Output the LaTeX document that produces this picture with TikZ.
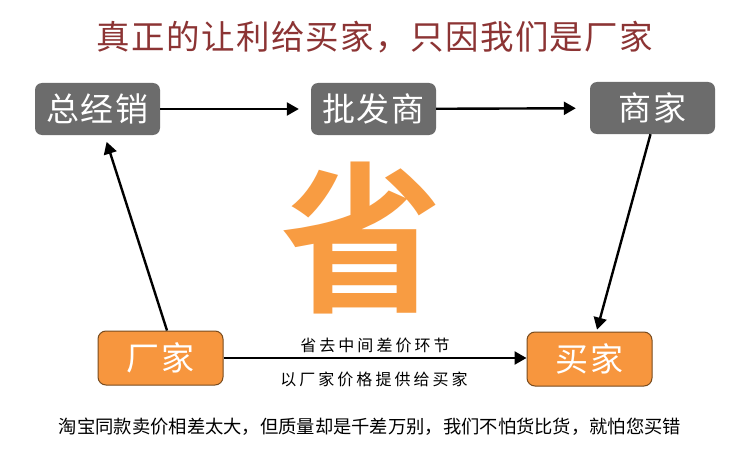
\documentclass[tikz,border=0pt]{standalone}
\usepackage{fontspec}
\setmainfont{Noto Sans CJK SC}
\newfontfamily\cjk{Noto Sans CJK SC}
\newfontfamily\cjkbold{Noto Sans CJK SC Bold}
\usetikzlibrary{arrows.meta}
\definecolor{titlered}{RGB}{140,52,52}
\definecolor{boxgray}{RGB}{108,108,108}
\definecolor{boxorange}{RGB}{247,150,62}
\definecolor{boxedge}{RGB}{120,75,30}
\definecolor{bigorange}{RGB}{248,156,66}
\tikzset{
  graybox/.style={fill=boxgray, rounded corners=7pt, minimum width=125pt, minimum height=52pt,
    inner sep=0pt, text=white, font=\cjk\fontsize{33}{33}\selectfont},
  orangebox/.style={fill=boxorange, draw=boxedge, line width=1pt, rounded corners=8pt,
    minimum width=125pt, minimum height=54pt, inner sep=0pt, text=white,
    font=\cjk\fontsize{33}{33}\selectfont},
  conn/.style={line width=2.4pt, -{Triangle[length=12pt,width=13pt]}},
  smalllabel/.style={font=\cjk\fontsize{16}{16}\selectfont, inner sep=0pt},
}
\begin{document}
\begin{tikzpicture}[x=1pt,y=-1pt]
\useasboundingbox[fill=white] (0,0) rectangle (750,460);
\node[font=\cjk\fontsize{33.5}{33.5}\selectfont\addfontfeature{LetterSpace=4}, text=titlered] (title) at (375,37) {真正的让利给买家，只因我们是厂家};
\node[graybox] (zjx) at (97.5,109) {\addfontfeature{LetterSpace=5}总经销};
\node[graybox] (pfs) at (373.5,109) {\addfontfeature{LetterSpace=5}批发商};
\node[graybox] (sj) at (652.5,108) {\addfontfeature{LetterSpace=5}商家};
\node[orangebox] (cj) at (160.5,358) {\addfontfeature{LetterSpace=5}厂家};
\node[orangebox] (mj) at (589.5,359) {\addfontfeature{LetterSpace=5}买家};
\node[font=\cjkbold\fontsize{162}{162}\selectfont, text=bigorange, inner sep=0pt] (sheng) at (361,238) {省};
\draw[conn, shorten >=12pt] (zjx) -- (pfs);
\draw[conn, shorten >=14pt] (pfs) -- (sj);
\draw[conn, shorten >=2pt] ([xshift=-2pt]sj.south) -- ([xshift=7pt]mj.north);
\draw[conn, shorten >=7pt] ([xshift=6.5pt]cj.north) -- ([xshift=7pt]zjx.south);
\draw[conn] (cj.east) -- (cj.east -| mj.west);
\node[smalllabel, above=6pt] (lab1) at (375,359) {\addfontfeature{LetterSpace=19}省去中间差价环节};
\node[smalllabel] (lab2) at (374,379) {\addfontfeature{LetterSpace=19}以厂家价格提供给买家};
\node[font=\cjk\fontsize{18.3}{18.3}\selectfont, inner sep=0pt] (foot) at (370,427) {淘宝同款卖价相差太大，但质量却是千差万别，我们不怕货比货，就怕您买错};
\end{tikzpicture}
\end{document}
